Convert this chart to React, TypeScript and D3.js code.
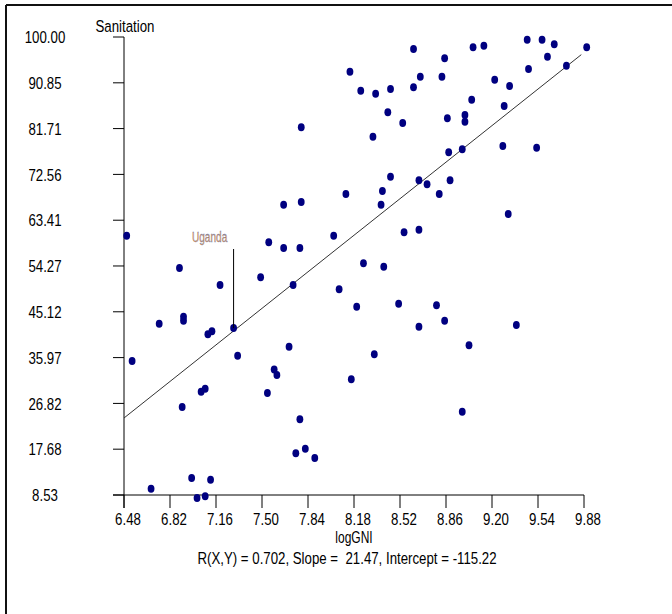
import React from 'react';
import { scaleLinear, line } from 'd3';

// logGNI / Sanitation pairs
const logGNI = [
  7.79, 8.15, 8.23, 8.34, 8.45, 8.43, 8.54, 8.32, 8.62, 8.62, 8.67, 8.85, 8.83, 8.87, 9.0, 9.0,
  9.05, 9.06, 9.14, 9.22, 9.33, 9.29, 8.88, 8.98, 9.28, 9.53, 9.46, 9.57, 9.66, 9.61, 9.47, 9.75,
  9.9, 8.45, 8.66, 8.72, 8.89, 8.12, 8.39, 8.81, 6.5, 6.89, 6.74, 6.92, 6.92, 7.19, 7.1, 7.13,
  7.29, 7.32, 6.54, 7.49, 7.55, 7.66, 7.79, 7.66, 7.78, 7.73, 7.7, 7.59, 7.61, 8.03, 8.07, 8.38,
  9.32, 8.55, 8.66, 8.25, 8.4, 8.2, 8.51, 8.79, 8.66, 8.85, 9.38, 9.03, 8.33, 7.54, 7.05, 7.08,
  6.91, 7.78, 7.75, 7.82, 7.89, 6.98, 7.12, 6.68, 7.02, 7.08, 8.16, 8.98,
];
const sanitation = [
  81.97, 93.07, 89.28, 88.68, 89.62, 84.96, 82.83, 80.09, 97.61, 89.96, 92.07, 95.75, 92.07, 83.76, 84.42, 83.09,
  87.48, 97.94, 98.26, 91.47, 90.22, 86.22, 76.97, 77.57, 78.23, 77.89, 99.46, 99.46, 98.54, 96.07, 93.61, 94.27,
  97.94, 72.1, 71.38, 70.58, 71.38, 68.65, 69.24, 68.65, 60.32, 53.87, 42.74, 44.14, 43.34, 50.47, 40.63, 41.22,
  41.88, 36.35, 35.29, 52.01, 59.0, 66.51, 67.05, 57.86, 57.86, 50.47, 38.15, 33.6, 32.5, 60.32, 49.61, 66.51,
  64.65, 61.0, 61.52, 54.81, 54.13, 46.14, 46.74, 46.42, 42.14, 43.34, 42.48, 38.43, 36.63, 28.9, 29.16, 29.76,
  26.11, 23.65, 16.86, 17.78, 15.92, 11.93, 11.59, 9.79, 7.93, 8.27, 31.64, 25.17,
];

const xTicks = [6.48, 6.82, 7.16, 7.5, 7.84, 8.18, 8.52, 8.86, 9.2, 9.54, 9.88];
const yTicks = [8.53, 17.68, 26.82, 35.97, 45.12, 54.27, 63.41, 72.56, 81.71, 90.85, 100.0];

const slope = 21.47;
const intercept = -115.22;
const labelled = { name: 'Uganda', x: 7.29, y: 41.88 };

// no narrow font installed, so squeeze Liberation Sans horizontally
const Label = ({ x, y, children, size = 17, squeeze = 0.78, fill = '#000', stroke = 'none' }: any) => (
  <text
    transform={`translate(${x},${y}) scale(${squeeze},1)`}
    dy="0.36em"
    textAnchor="middle"
    fontFamily="'Liberation Sans', Arial, sans-serif"
    fontSize={size}
    fill={fill}
    stroke={stroke}
    strokeWidth={stroke === 'none' ? 0 : 0.3}
    style={{ whiteSpace: 'pre' }}
  >
    {children}
  </text>
);

export default function App() {
  const x = scaleLinear().domain([6.48, 9.88]).range([124, 584]);
  const y = scaleLinear().domain([8.53, 100]).range([495, 37]);

  const fit = line<number>()
    .x(d => x(d))
    .y(d => y(slope * d + intercept));

  const ux = x(labelled.x);
  const uy = y(labelled.y);

  return (
    <svg width={672} height={614} style={{ position: 'absolute', left: 0, top: 0, background: '#fff' }}>
      {/* frame */}
      <line x1={6} y1={5} x2={672} y2={5} stroke="#111" strokeWidth={2} />
      <line x1={6} y1={5} x2={6} y2={614} stroke="#111" strokeWidth={2} />

      {/* y axis */}
      <line x1={x(6.48)} y1={y(100)} x2={x(6.48)} y2={y(8.53) + 13} stroke="#000" />
      {yTicks.map(t => (
        <g key={t}>
          <line x1={x(6.48) - 11} x2={x(6.48)} y1={y(t)} y2={y(t)} stroke="#000" />
          <Label x={45} y={y(t)}>{t.toFixed(2)}</Label>
        </g>
      ))}

      {/* x axis */}
      <line x1={x(6.48) - 11} y1={y(8.53)} x2={x(9.88)} y2={y(8.53)} stroke="#000" />
      {xTicks.map(t => (
        <g key={t}>
          <line x1={x(t)} x2={x(t)} y1={y(8.53)} y2={y(8.53) + 13} stroke="#000" />
          <Label x={x(t) + 4} y={519}>{t.toFixed(2)}</Label>
        </g>
      ))}

      <Label x={125} y={26}>Sanitation</Label>
      <Label x={354} y={537} size={16} squeeze={0.75}>logGNI</Label>
      <Label x={347} y={558}>{'R(X,Y) = 0.702, Slope =  21.47, Intercept = -115.22'}</Label>

      {/* regression line */}
      <path d={fit([6.48, 9.86]) || ''} fill="none" stroke="#333" strokeWidth={1} />

      {/* points */}
      {logGNI.map((g, i) => (
        <ellipse key={i} cx={x(g)} cy={y(sanitation[i])} rx={3.4} ry={4} fill="#000080" />
      ))}

      {/* Uganda callout */}
      <line x1={ux} y1={uy} x2={ux} y2={uy - 79} stroke="#000" />
      <Label x={ux - 24} y={uy - 91} size={14} squeeze={0.72} fill="#e8974a" stroke="#4a72c0">
        {labelled.name}
      </Label>
    </svg>
  );
}
